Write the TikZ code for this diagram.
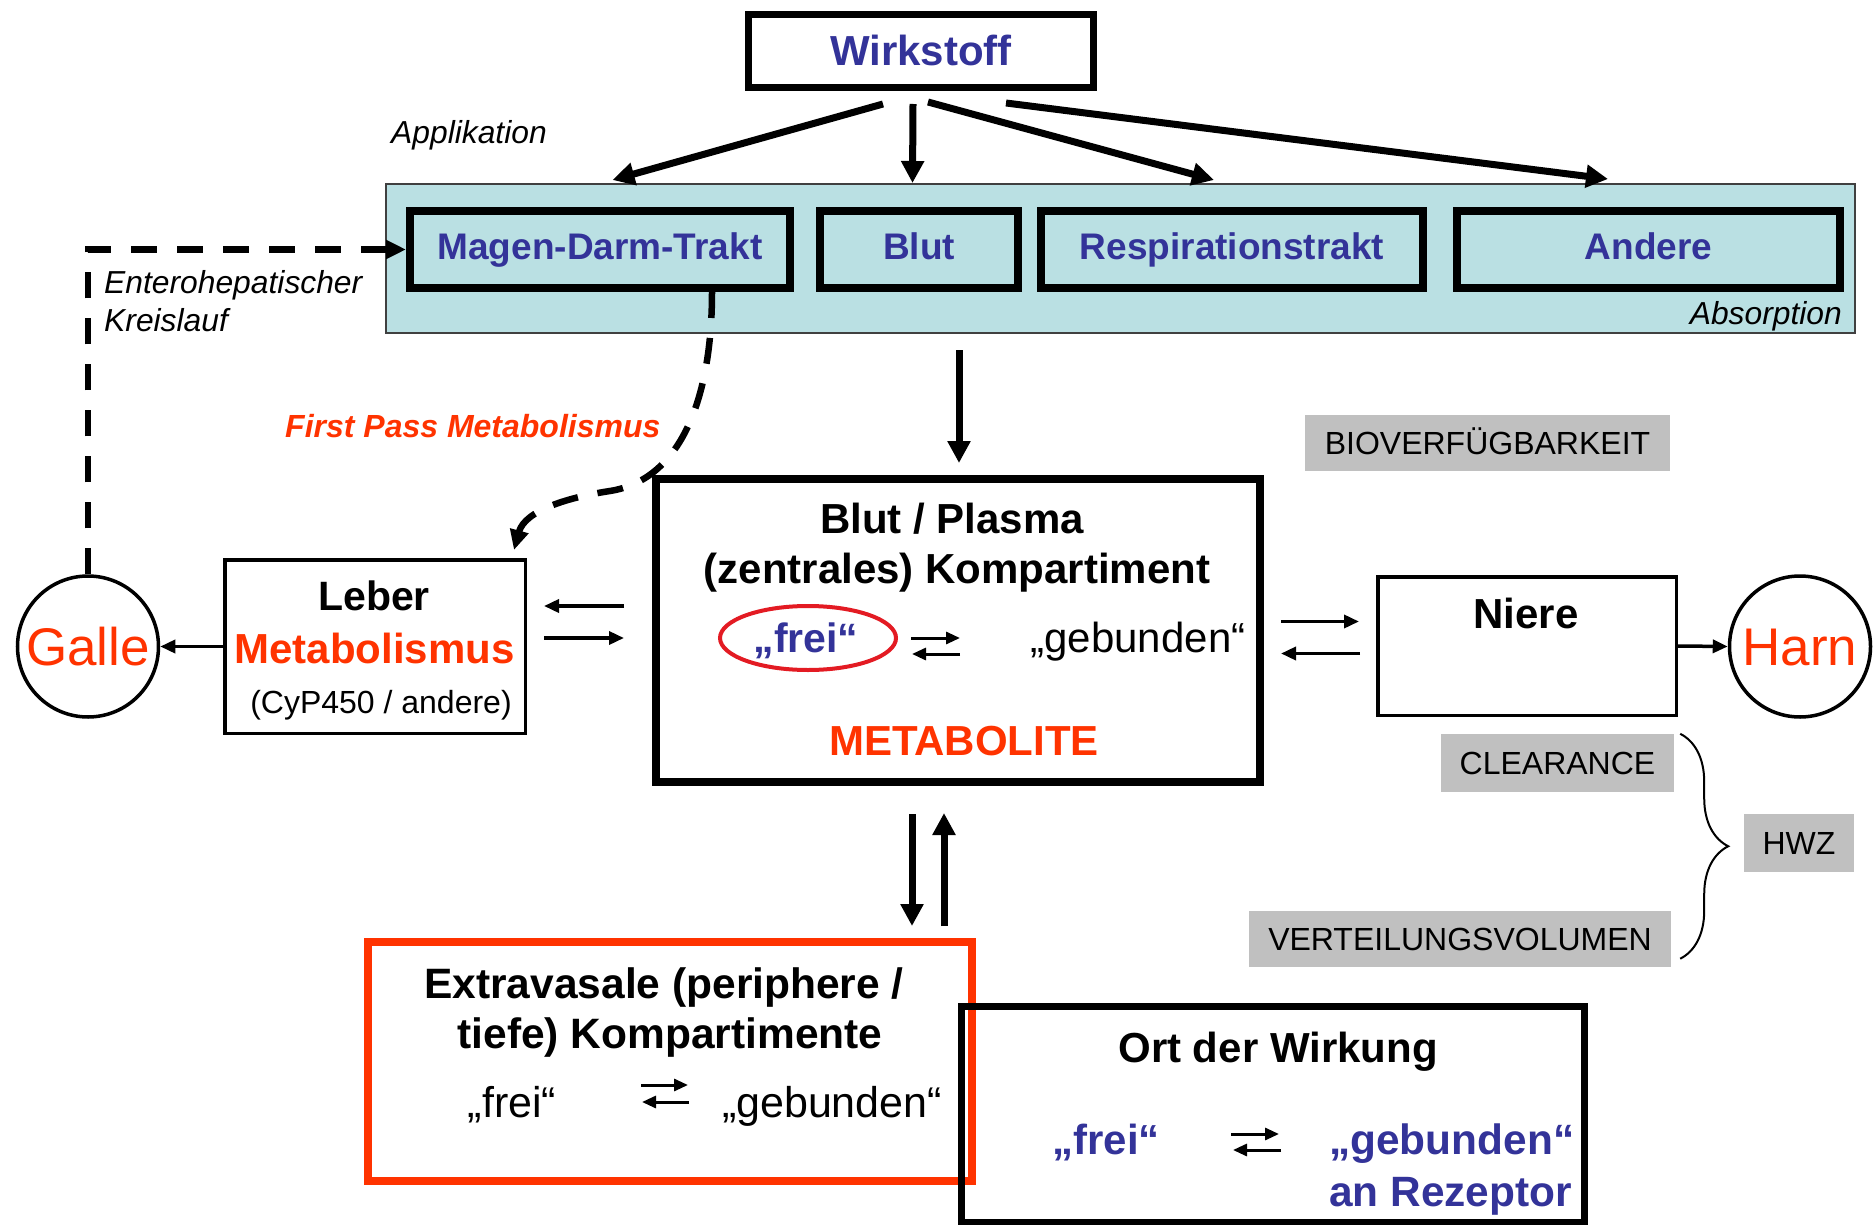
\documentclass[tikz,border=0pt]{standalone}
\usepackage{fontspec}
\setmainfont{Liberation Sans}
\usetikzlibrary{arrows.meta,decorations.pathreplacing,calc,shapes.geometric}
\definecolor{tblue}{HTML}{333399}
\definecolor{tred}{HTML}{FF3300}
\definecolor{ellred}{HTML}{E31B23}
\definecolor{panelcyan}{HTML}{BAE0E3}
\definecolor{lgray}{HTML}{C0C0C0}
\newcommand\fsz[1]{\fontsize{#1pt}{#1pt}\selectfont}
\begin{document}
\begin{tikzpicture}[x=1pt,y=-1pt,
  every node/.style={inner sep=0pt},
  cbox/.style={draw, line width=8pt, fill=panelcyan, minimum height=77pt,
    font=\fsz{37}\bfseries, text=tblue, text height=26.5pt, text depth=7pt},
  graybox/.style={fill=lgray, font=\fsz{32}, text height=23pt, text depth=0pt},
  bigarrow/.style={line width=7pt, -{Triangle[length=22pt,width=22pt]}},
  midarrow/.style={line width=3.5pt, -{Triangle[length=15pt,width=13pt]}},
  tinyarrow/.style={line width=3pt, -{Triangle[length=14pt,width=12pt]}},
  dasharrow/.style={line width=6.5pt, dash pattern=on 26pt off 20pt, -{Triangle[length=20pt,width=18pt]}},
  ital/.style={font=\fsz{31.8}\itshape},
  btitle/.style={font=\fsz{42}\bfseries, anchor=base}
]
\useasboundingbox (0,0) rectangle (1874,1225);

% Wirkstoff
\node[draw, line width=7pt, minimum width=345pt, minimum height=73pt,
  font=\fsz{42}\bfseries, text=tblue, text height=30pt, text depth=0pt] (wirk) at (921,51) {Wirkstoff};

% Absorption panel
\node[draw=black!75, line width=2pt, fill=panelcyan, minimum width=1469pt, minimum height=149pt] (panel) at (1120.5,258.5) {};
\node[cbox, minimum width=380pt] (mdt) at (600,249.5) {Magen-Darm-Trakt};
\node[cbox, minimum width=198pt] (blut) at (919,249.5) {Blut};
\node[cbox, minimum width=382pt] (resp) at (1232,249.5) {Respirationstrakt};
\node[cbox, minimum width=383pt] (andere) at (1648.5,249.5) {Andere};
\node[ital, anchor=base east] (absorp) at (1842,324) {Absorption};
\node[ital, anchor=base west] (appl) at (391,144) {Applikation};

% Applikation arrows
\draw[bigarrow] ($(wirk.south)+(-38,13)$) -- ($(panel.north)+(-508,-3)$);
\draw[bigarrow] ($(wirk.south)+(-8,13)$) -- ($(panel.north)+(-208,0)$);
\draw[bigarrow] ($(wirk.south)+(7,11)$) -- ($(panel.north)+(93.5,-3)$);
\draw[bigarrow] ($(wirk.south)+(85,12)$) -- ($(panel.north)+(487.5,-4)$);

% Blut / Plasma
\node[draw, line width=8pt, minimum width=604pt, minimum height=303pt] (bp) at (958,630.5) {};
\node[btitle] (bpt1) at (952,533) {Blut / Plasma};
\node[btitle] (bpt2) at (957,583) {(zentrales) Kompartiment};
\node[font=\fsz{41}\bfseries, text=tblue, anchor=base] (bpfrei) at (806,652) {„frei“};
\node[font=\fsz{42}, anchor=base] (bpgeb) at (1138,652) {„gebunden“};
\node[font=\fsz{42}\bfseries, text=tred, anchor=base] (bpmet) at (964,755) {METABOLITE};
\node[ellipse, draw=ellred, line width=4pt, minimum width=176pt, minimum height=64pt] (ell) at (808,638) {};
\coordinate (bq1) at (911,638); \coordinate (bq2) at (960,638);
\coordinate (bq3) at (960,654); \coordinate (bq4) at (912,654);
\draw[tinyarrow] (bq1) -- (bq2);
\draw[tinyarrow] (bq3) -- (bq4);

\draw[bigarrow] ($(panel.south)+(-161.5,16)$) -- ($(bp.north)+(1,-12)$);

% Leber
\node[draw, line width=3.5pt, minimum width=300.5pt, minimum height=173.5pt] (leber) at (375,646.5) {};
\node[font=\fsz{41}\bfseries, anchor=base] (lebt) at (374,610) {Leber};
\node[font=\fsz{42}\bfseries, text=tred, anchor=base] (lebm) at (374.5,663) {Metabolismus};
\node[font=\fsz{32}, anchor=base] (lebc) at (381,713) {(CyP450 / andere)};

% Galle
\node[circle, draw, line width=3.5pt, minimum size=141pt, font=\fsz{53}, text=tred,
  text height=38pt, text depth=0pt] (galle) at (88,646.5) {Galle};
\draw[midarrow] (leber.west) -- (galle.east);
\draw[midarrow] ($(bp.west)+(-28,-24.5)$) -- ($(leber.east)+(17,-40.5)$);
\draw[midarrow] ($(leber.east)+(17,-8.5)$) -- ($(bp.west)+(-28,7.5)$);

% Niere & Harn
\node[draw, line width=3.5pt, minimum width=298.5pt, minimum height=138.5pt] (niere) at (1527,646) {};
\node[font=\fsz{42}\bfseries, anchor=base] (nieret) at (1526,628) {Niere};
\node[circle, draw, line width=3.5pt, minimum size=141pt, font=\fsz{53}, text=tred,
  text height=38pt, text depth=0pt] (harn) at (1800,646.5) {Harn};
\draw[midarrow] (niere.east) -- (harn.west);
\draw[midarrow] ($(bp.east)+(17,-9)$) -- ($(niere.west)+(-17,-24.5)$);
\draw[midarrow] ($(niere.west)+(-16,7.5)$) -- ($(bp.east)+(17,23)$);

% gray labels
\node[graybox, minimum width=365pt, minimum height=56pt] (bio) at (1487.5,443) {BIOVERFÜGBARKEIT};
\node[graybox, minimum width=233pt, minimum height=58pt] (clear) at (1557.5,763) {CLEARANCE};
\node[graybox, minimum width=110pt, minimum height=58pt] (hwz) at (1799,843) {HWZ};
\node[graybox, minimum width=422pt, minimum height=56pt] (vert) at (1460,938.5) {VERTEILUNGSVOLUMEN};
\draw[decorate, decoration={brace, amplitude=48pt}, line width=2pt]
  ($(clear.north east)+(6,0)$) -- ($(vert.south east)+(9,-8)$);

% Extravasale
\node[draw=tred, line width=8pt, minimum width=604pt, minimum height=239pt] (extra) at (670,1061.5) {};
\node[font=\fsz{42.5}\bfseries, anchor=base] (ext1) at (664,998) {Extravasale (periphere /};
\node[font=\fsz{42.5}\bfseries, anchor=base] (ext2) at (670,1048) {tiefe) Kompartimente};
\node[font=\fsz{43}, anchor=base] (extf) at (512,1117) {„frei“};
\node[font=\fsz{43}, anchor=base] (extg) at (832,1117) {„gebunden“};
\coordinate (eq1) at (641,1085); \coordinate (eq2) at (688,1085);
\coordinate (eq3) at (689,1102); \coordinate (eq4) at (642,1102);
\draw[tinyarrow] (eq1) -- (eq2);
\draw[tinyarrow] (eq3) -- (eq4);

\draw[bigarrow] ($(bp.south)+(-46,28)$) -- ($(extra.north)+(242,-12)$);
\draw[bigarrow] ($(extra.north)+(274,-12)$) -- ($(bp.south)+(-14,27)$);

% Ort der Wirkung
\node[draw, line width=7pt, minimum width=623pt, minimum height=216pt] (ort) at (1273,1114.5) {};
\node[btitle] (ortt) at (1278,1062) {Ort der Wirkung};
\node[font=\fsz{42}\bfseries, text=tblue, anchor=base] (ortf) at (1106,1154) {„frei“};
\node[font=\fsz{42.4}\bfseries, text=tblue, anchor=base west] (ortg) at (1329,1154) {„gebunden“};
\node[font=\fsz{42.4}\bfseries, text=tblue, anchor=base west] (ortr) at (1329,1206) {an Rezeptor};
\coordinate (oq1) at (1231,1134); \coordinate (oq2) at (1279,1134);
\coordinate (oq3) at (1281,1150); \coordinate (oq4) at (1233,1150);
\draw[tinyarrow] (oq1) -- (oq2);
\draw[tinyarrow] (oq3) -- (oq4);

% Enterohepatic circulation
\node[ital, anchor=base west] (entero) at (104,293) {Enterohepatischer};
\node[ital, anchor=base west] (kreis) at (104,331) {Kreislauf};
\draw[dasharrow] (galle.north) |- (mdt.west);

% First pass
\node[font=\fsz{32}\bfseries\itshape, text=tred, anchor=base west] (fpm) at (285,437) {First Pass Metabolismus};
\draw[dasharrow] ($(mdt.south)+(112,0)$) .. controls (712,400) and (680,480) .. (610,491)
  .. controls (570,497) and (525,510) .. ($(leber.north east)+(-13,-8)$);
\end{tikzpicture}
\end{document}
